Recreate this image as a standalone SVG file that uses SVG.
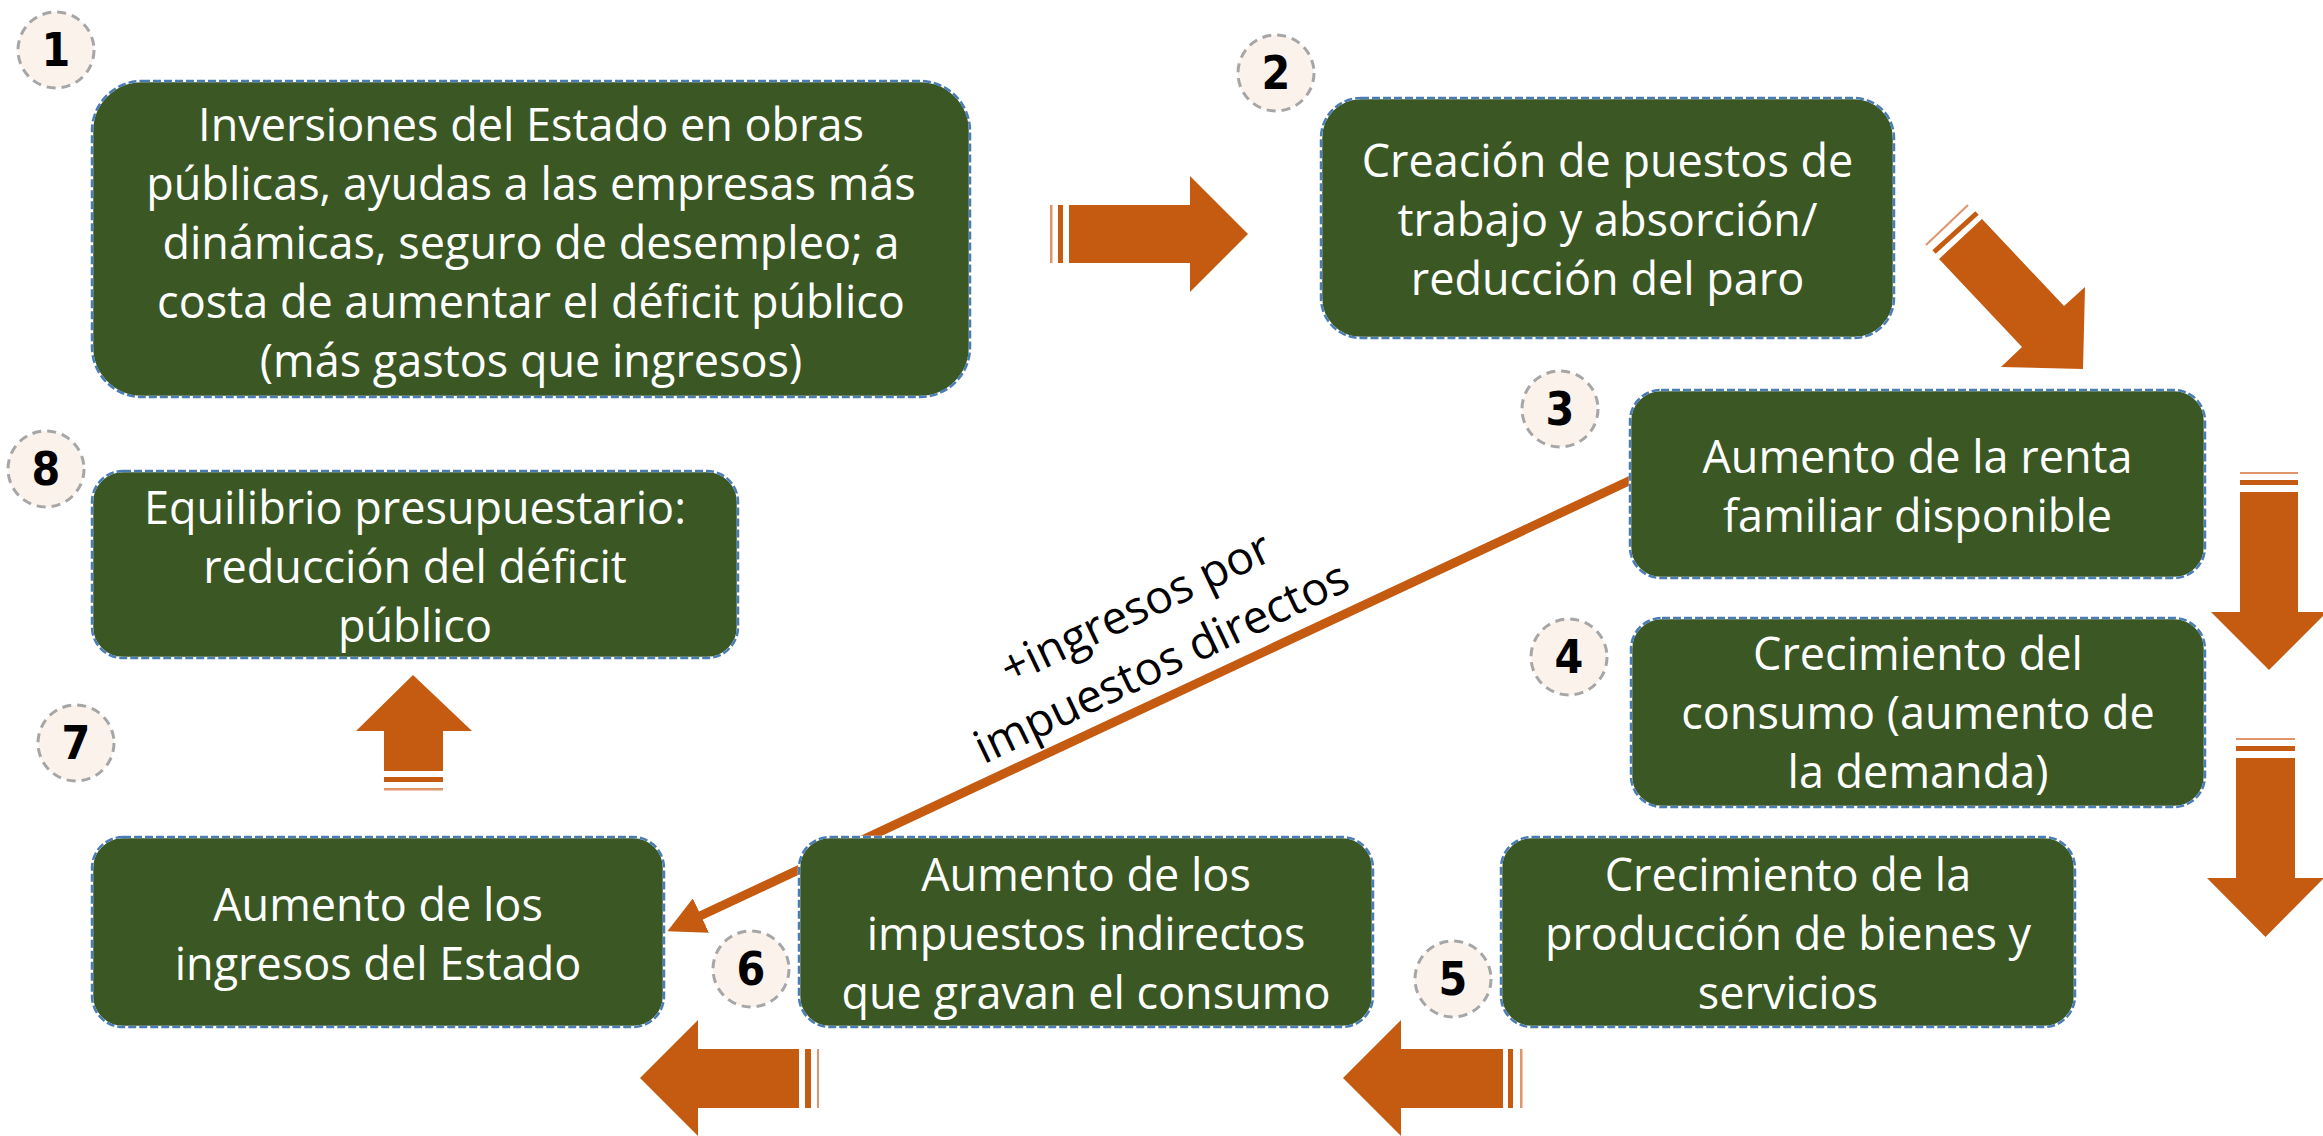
<svg xmlns="http://www.w3.org/2000/svg" width="2323" height="1136" viewBox="0 0 2323 1136">
<style>
.box{fill:#3A5724;stroke:#ffffff;stroke-width:2.5}
.dash{fill:none;stroke:#4A7DB5;stroke-width:2.5;stroke-dasharray:8 3}
.t{font-family:"Open Sans","Noto Sans","DejaVu Sans",sans-serif;font-size:45px;fill:#ffffff;text-anchor:middle}
.lbl{font-family:"Open Sans","Noto Sans","DejaVu Sans",sans-serif;font-size:46px;fill:#000000;text-anchor:middle}
.num circle{fill:#FBF2EC;stroke:#A6A6A6;stroke-width:3;stroke-dasharray:9 6}
.num text{font-family:"Liberation Sans Narrow","DejaVu Sans Condensed","Roboto",sans-serif;font-size:46px;font-weight:bold;fill:#000000;text-anchor:middle}
.ar{fill:#C55A11}
.st1{fill:#C55A11}
.st2{fill:#E0946A}
</style>
<defs>
<marker id="head" markerUnits="userSpaceOnUse" markerWidth="37" markerHeight="38" viewBox="0 0 37 38" refX="1" refY="19" orient="auto">
<path d="M0,0 L37,19 L0,38 z" fill="#C55A11"/>
</marker>
</defs>

<g id="connectors">
<path d="M1631,480 L700,916" stroke="#C55A11" stroke-width="9" fill="none" marker-end="url(#head)"/>
<text class="lbl" transform="translate(1148,634) rotate(-25.5)"><tspan x="0" y="-13">+ingresos por</tspan><tspan x="0" y="47">impuestos directos</tspan></text>

<g id="arrow-1-2">
<rect class="st2" x="1050" y="205" width="2.5" height="58"/>
<rect class="st1" x="1058" y="205" width="5" height="58"/>
<polygon class="ar" points="1069,205 1190,205 1190,176 1248,234 1190,292 1190,263 1069,263"/>
</g>
<g id="arrow-2-3">
<line x1="1926" y1="245" x2="1968" y2="205" stroke="#E0946A" stroke-width="2"/>
<line x1="1934" y1="252" x2="1977" y2="213" stroke="#C55A11" stroke-width="5"/>
<polygon class="ar" points="1939,259 1982,219 2064,306 2085,287 2083,369 2001,367 2022,347"/>
</g>
<g id="arrow-3-4">
<rect class="st2" x="2240" y="472" width="58" height="2"/>
<rect class="st1" x="2240" y="480" width="58" height="5"/>
<polygon class="ar" points="2240,492 2298,492 2298,612 2327,612 2269,670 2211,612 2240,612"/>
</g>
<g id="arrow-4-5">
<rect class="st2" x="2236" y="738" width="59" height="2"/>
<rect class="st1" x="2236" y="746" width="59" height="5"/>
<polygon class="ar" points="2236,758 2295,758 2295,878 2324,878 2265.5,937 2207,878 2236,878"/>
</g>
<g id="arrow-5-6">
<rect class="st2" x="1520" y="1049" width="2.5" height="59"/>
<rect class="st1" x="1508" y="1049" width="5" height="59"/>
<polygon class="ar" points="1503,1049 1401,1049 1401,1020 1343,1078 1401,1136 1401,1108 1503,1108"/>
</g>
<g id="arrow-6-7">
<rect class="st2" x="817" y="1049" width="2" height="59"/>
<rect class="st1" x="805" y="1049" width="6" height="59"/>
<polygon class="ar" points="799,1049 698,1049 698,1020 640,1078 698,1136 698,1108 799,1108"/>
</g>
<g id="arrow-7-8">
<rect class="st2" x="384" y="788" width="59" height="2.5"/>
<rect class="st1" x="384" y="777" width="59" height="5"/>
<polygon class="ar" points="384,771 384,731 356,731 413,675 472,731 443,731 443,771"/>
</g>
</g>

<g id="node1">
<rect class="box" x="92" y="81" width="878" height="316" rx="50"/>
<rect class="dash" x="92" y="81" width="878" height="316" rx="50"/>
<text class="t"><tspan x="531" y="141">Inversiones del Estado en obras</tspan><tspan x="531" y="200">públicas, ayudas a las empresas más</tspan><tspan x="531" y="259">dinámicas, seguro de desempleo; a</tspan><tspan x="531" y="318">costa de aumentar el déficit público</tspan><tspan x="531" y="377">(más gastos que ingresos)</tspan></text>
</g>
<g id="node2">
<rect class="box" x="1321" y="98" width="573" height="240" rx="40"/>
<rect class="dash" x="1321" y="98" width="573" height="240" rx="40"/>
<text class="t"><tspan x="1607.5" y="177">Creación de puestos de</tspan><tspan x="1607.5" y="236">trabajo y absorción/</tspan><tspan x="1607.5" y="295">reducción del paro</tspan></text>
</g>
<g id="node3">
<rect class="box" x="1630" y="390" width="575" height="188" rx="31"/>
<rect class="dash" x="1630" y="390" width="575" height="188" rx="31"/>
<text class="t"><tspan x="1917.5" y="472.5">Aumento de la renta</tspan><tspan x="1917.5" y="531.5">familiar disponible</tspan></text>
</g>
<g id="node4">
<rect class="box" x="1631" y="618" width="574" height="189" rx="31"/>
<rect class="dash" x="1631" y="618" width="574" height="189" rx="31"/>
<text class="t"><tspan x="1918" y="670">Crecimiento del</tspan><tspan x="1918" y="729">consumo (aumento de</tspan><tspan x="1918" y="788">la demanda)</tspan></text>
</g>
<g id="node5">
<rect class="box" x="1501" y="837" width="574" height="190" rx="31"/>
<rect class="dash" x="1501" y="837" width="574" height="190" rx="31"/>
<text class="t"><tspan x="1788" y="891">Crecimiento de la</tspan><tspan x="1788" y="950">producción de bienes y</tspan><tspan x="1788" y="1009">servicios</tspan></text>
</g>
<g id="node6">
<rect class="box" x="799" y="837" width="574" height="190" rx="31"/>
<rect class="dash" x="799" y="837" width="574" height="190" rx="31"/>
<text class="t"><tspan x="1086" y="891">Aumento de los</tspan><tspan x="1086" y="950">impuestos indirectos</tspan><tspan x="1086" y="1009">que gravan el consumo</tspan></text>
</g>
<g id="node7">
<rect class="box" x="92" y="837" width="572" height="190" rx="31"/>
<rect class="dash" x="92" y="837" width="572" height="190" rx="31"/>
<text class="t"><tspan x="378" y="920.5">Aumento de los</tspan><tspan x="378" y="979.5">ingresos del Estado</tspan></text>
</g>
<g id="node8">
<rect class="box" x="92" y="471" width="646" height="187" rx="31"/>
<rect class="dash" x="92" y="471" width="646" height="187" rx="31"/>
<text class="t"><tspan x="415" y="523.5">Equilibrio presupuestario:</tspan><tspan x="415" y="582.5">reducción del déficit</tspan><tspan x="415" y="641.5">público</tspan></text>
</g>

<g id="num1" class="num"><circle cx="56" cy="50" r="38"/><text x="56" y="66">1</text></g>
<g id="num2" class="num"><circle cx="1276" cy="73" r="38"/><text x="1276" y="89">2</text></g>
<g id="num3" class="num"><circle cx="1560" cy="409" r="38"/><text x="1560" y="425">3</text></g>
<g id="num4" class="num"><circle cx="1569" cy="657" r="38"/><text x="1569" y="673">4</text></g>
<g id="num5" class="num"><circle cx="1453" cy="979" r="38"/><text x="1453" y="995">5</text></g>
<g id="num6" class="num"><circle cx="751" cy="969" r="38"/><text x="751" y="985">6</text></g>
<g id="num7" class="num"><circle cx="76" cy="743" r="38"/><text x="76" y="759">7</text></g>
<g id="num8" class="num"><circle cx="46" cy="469" r="38"/><text x="46" y="485">8</text></g>
</svg>
